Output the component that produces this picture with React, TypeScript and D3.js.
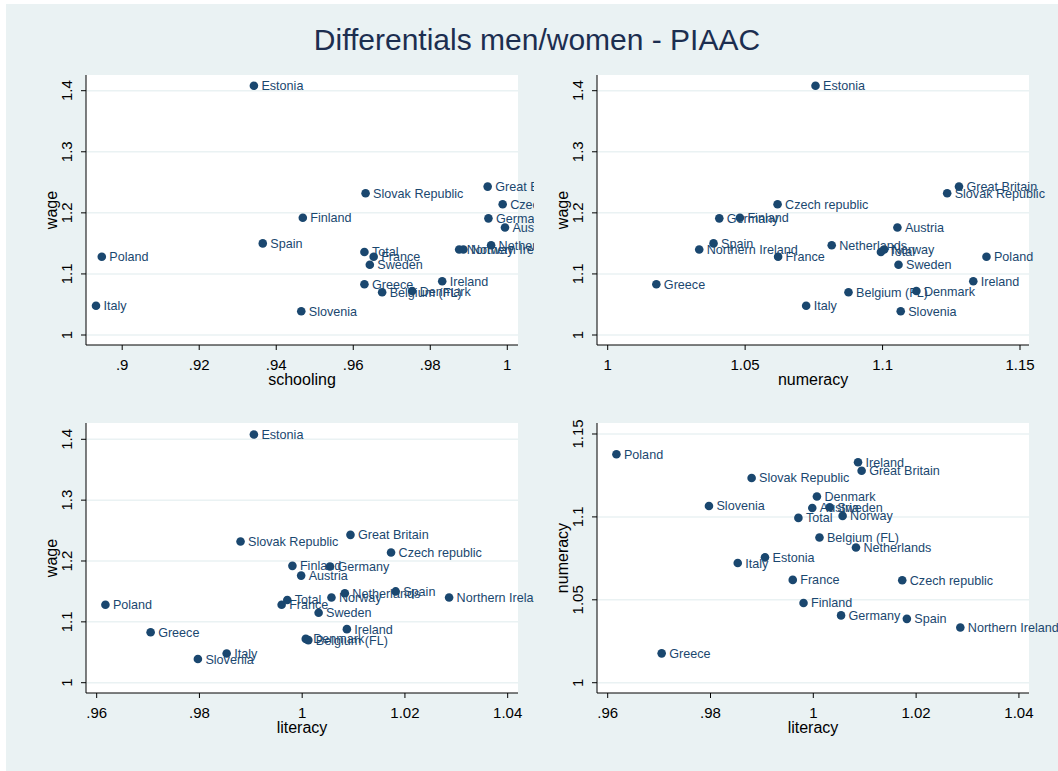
import React from "react";
import * as d3 from "d3";

const countries = ["Estonia","Great Britain","Slovak Republic","Czech republic","Finland","Germany","Austria","Spain","Netherlands","Northern Ireland","Norway","Total","France","Poland","Sweden","Ireland","Greece","Denmark","Belgium (FL)","Italy","Slovenia"];
const schooling = [0.9342,0.9949,0.9632,0.9988,0.9469,0.9951,0.9994,0.9365,0.9958,0.9875,0.9886,0.9629,0.9653,0.8947,0.9643,0.9831,0.9629,0.9753,0.9675,0.8932,0.9465];
const numeracy = [1.0756,1.1278,1.1235,1.0618,1.0481,1.0406,1.1054,1.0385,1.0815,1.0333,1.1006,1.0994,1.0620,1.1378,1.1058,1.1330,1.0177,1.1123,1.0876,1.0722,1.1066];
const literacy = [0.9906,1.0094,0.9880,1.0173,0.9981,1.0054,0.9998,1.0182,1.0083,1.0286,1.0057,0.9971,0.9960,0.9617,1.0032,1.0087,0.9705,1.0007,1.0012,0.9853,0.9797];
const wage = [1.408,1.243,1.232,1.214,1.192,1.191,1.176,1.150,1.147,1.140,1.140,1.136,1.128,1.128,1.115,1.088,1.083,1.072,1.070,1.048,1.039];

const wageTicks = [1, 1.1, 1.2, 1.3, 1.4];
const wageTickLabels = ["1", "1.1", "1.2", "1.3", "1.4"];
const schoolTicks = [0.9, 0.92, 0.94, 0.96, 0.98, 1];
const schoolTickLabels = [".9", ".92", ".94", ".96", ".98", "1"];
const numTicks = [1, 1.05, 1.1, 1.15];
const numTickLabels = ["1", "1.05", "1.1", "1.15"];
const litTicks = [0.96, 0.98, 1, 1.02, 1.04];
const litTickLabels = [".96", ".98", "1", "1.02", "1.04"];

const title = "Differentials men/women - PIAAC";

const FONT = "'Liberation Sans', Arial, Helvetica, sans-serif";
const NAVY = "#1a476f";

type PanelCfg = {
  id: string;
  x: number[]; y: number[];
  xTitle: string; yTitle: string;
  xTicks: number[]; xLabels: string[];
  yTicks: number[]; yLabels: string[];
  xDomain: [number, number]; yDomain: [number, number];
  rect: [number, number, number, number];
  clip: [number, number, number, number];
};

const panels: PanelCfg[] = [
  { id: "p1", x: schooling, y: wage, xTitle: "schooling", yTitle: "wage",
    xTicks: schoolTicks, xLabels: schoolTickLabels, yTicks: wageTicks, yLabels: wageTickLabels,
    xDomain: [0.8906, 1.00278], yDomain: [0.98363, 1.4257], rect: [86, 75, 518, 345], clip: [6, 60, 534, 395] },
  { id: "p2", x: numeracy, y: wage, xTitle: "numeracy", yTitle: "wage",
    xTicks: numTicks, xLabels: numTickLabels, yTicks: wageTicks, yLabels: wageTickLabels,
    xDomain: [0.99611, 1.15327], yDomain: [0.98363, 1.4257], rect: [597, 75, 1029, 345], clip: [534, 60, 1058, 395] },
  { id: "p3", x: literacy, y: wage, xTitle: "literacy", yTitle: "wage",
    xTicks: litTicks, xLabels: litTickLabels, yTicks: wageTicks, yLabels: wageTickLabels,
    xDomain: [0.95792, 1.04201], yDomain: [0.98307, 1.42679], rect: [86, 423, 518, 693], clip: [6, 400, 534, 771] },
  { id: "p4", x: literacy, y: numeracy, xTitle: "literacy", yTitle: "numeracy",
    xTicks: litTicks, xLabels: litTickLabels, yTicks: numTicks, yLabels: numTickLabels,
    xDomain: [0.95792, 1.04196], yDomain: [0.99379, 1.15663], rect: [597, 423, 1029, 693], clip: [534, 400, 1058, 771] },
];

function Panel({ cfg }: { cfg: PanelCfg }) {
  const [x0, y0, x1, y1] = cfg.rect;
  const [cx0, cy0, cx1, cy1] = cfg.clip;
  const xs = d3.scaleLinear().domain(cfg.xDomain).range([x0, x1]);
  const ys = d3.scaleLinear().domain(cfg.yDomain).range([y1, y0]);
  const idx = d3.range(countries.length);
  return (
    <g>
      <defs>
        <clipPath id={"clip-" + cfg.id}>
          <rect x={cx0} y={cy0} width={cx1 - cx0} height={cy1 - cy0} />
        </clipPath>
      </defs>
      <rect x={x0} y={y0} width={x1 - x0} height={y1 - y0} fill="#ffffff" />
      {cfg.yTicks.map((t) => (
        <line key={"g" + t} x1={x0} x2={x1} y1={ys(t)} y2={ys(t)} stroke="#eaf2f3" strokeWidth={1.5} />
      ))}
      <g clipPath={`url(#clip-${cfg.id})`}>
        {idx.map((i) => (
          <text key={"l" + i} x={xs(cfg.x[i]) + 7.5} y={ys(cfg.y[i])} dy="0.36em"
            fontSize={12.6} fill={NAVY} fontFamily={FONT}>{countries[i]}</text>
        ))}
        {idx.map((i) => (
          <circle key={"c" + i} cx={xs(cfg.x[i])} cy={ys(cfg.y[i])} r={4.3} fill={NAVY} />
        ))}
      </g>
      <line x1={x0} x2={x0} y1={y0} y2={y1} stroke="#000" strokeWidth={1} />
      <line x1={x0} x2={x1} y1={y1} y2={y1} stroke="#000" strokeWidth={1} />
      {cfg.yTicks.map((t, k) => (
        <g key={"yt" + t}>
          <line x1={x0 - 5} x2={x0} y1={ys(t)} y2={ys(t)} stroke="#000" />
          <text transform={`translate(${x0 - 19},${ys(t)}) rotate(-90)`} dy="0.36em" textAnchor="middle"
            fontSize={15} fill="#000" fontFamily={FONT}>{cfg.yLabels[k]}</text>
        </g>
      ))}
      {cfg.xTicks.map((t, k) => (
        <g key={"xt" + t}>
          <line x1={xs(t)} x2={xs(t)} y1={y1} y2={y1 + 5} stroke="#000" />
          <text x={xs(t)} y={y1 + 25} textAnchor="middle" fontSize={15} fill="#000" fontFamily={FONT}>{cfg.xLabels[k]}</text>
        </g>
      ))}
      <text x={(x0 + x1) / 2} y={y1 + 39.5} textAnchor="middle" fontSize={16} fill="#000" fontFamily={FONT}>{cfg.xTitle}</text>
      <text transform={`translate(${x0 - 35},${(y0 + y1) / 2}) rotate(-90)`} dy="0.36em" textAnchor="middle"
        fontSize={16} fill="#000" fontFamily={FONT}>{cfg.yTitle}</text>
    </g>
  );
}

export default function App() {
  return (
    <svg width={1058} height={771} style={{ position: "absolute", left: 0, top: 0 }}>
      <rect x={0} y={0} width={1058} height={771} fill="#ffffff" />
      <rect x={6} y={4} width={1052} height={767} fill="#eaf2f3" />
      <text x={537} y={50} textAnchor="middle" fontSize={30} fill="#1c2e50" fontFamily={FONT}>{title}</text>
      {panels.map((p) => <Panel key={p.id} cfg={p} />)}
    </svg>
  );
}
